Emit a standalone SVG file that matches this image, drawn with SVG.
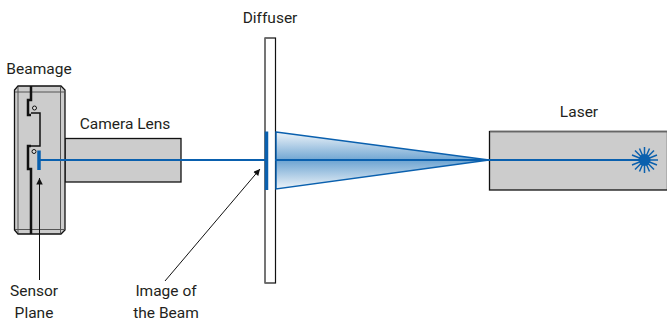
<svg xmlns="http://www.w3.org/2000/svg" width="667" height="322" viewBox="0 0 667 322">
<style>
text{font-family:"Roboto","Liberation Sans",sans-serif;font-size:15.5px;fill:#231f20;text-anchor:middle}
.body{fill:#cccccc;stroke:#111;stroke-width:1.3}
.in{fill:none;stroke:#555;stroke-width:1}
.beam{stroke:#0a60ae;fill:none}
.lead{stroke:#111;stroke-width:1;fill:none}
</style>
<defs>
<linearGradient id="g" x1="0" y1="0" x2="0" y2="1">
<stop offset="0" stop-color="#eef4f9"/><stop offset="0.5" stop-color="#6fa5d2"/><stop offset="1" stop-color="#eef4f9"/>
</linearGradient>
<marker id="a" viewBox="0 0 10 10" refX="10" refY="5" markerWidth="10" markerHeight="6.500" markerUnits="userSpaceOnUse" orient="auto"><path d="M0 0L10 5L0 10z" fill="#111"/></marker>
</defs>
<g id="lens"><rect class="body" x="65" y="138.500" width="116" height="43.500"/><text x="125" y="129">Camera Lens</text></g>
<g id="beamage">
<path class="body" d="M18 86H61L65 90V230L61 234H18L14.500 230V90Z"/>
<path class="in" d="M18 87V233M60.500 87V233M15 92H64.500M15 229.500H64.500"/>
<path fill="none" stroke="#111" stroke-width="2.500" d="M31 86V100H28V115H31"/>
<path fill="none" stroke="#111" stroke-width="2.500" d="M31 146H28V169H31V234"/>
<path fill="none" stroke="#111" stroke-width="1.500" d="M31 113H40V146H31"/>
<circle cx="34.500" cy="108" r="2" fill="#ddd" stroke="#111"/>
<circle cx="34" cy="151.500" r="2" fill="#ddd" stroke="#111"/>
<text x="39" y="74">Beamage</text>
</g>
<g id="diffuser">
<rect x="265" y="38" width="10.500" height="245" fill="#fff" stroke="#111" stroke-width="1.200"/>
<path d="M265 38V283" stroke="#777" stroke-width="1.500"/>
<text x="270" y="23">Diffuser</text>
</g>
<g id="laser">
<rect x="489.500" y="131.500" width="178" height="58.500" fill="#cccccc" stroke="#111" stroke-width="1.300"/>
<path d="M490 131.500H667" stroke="#666" stroke-width="1.300"/>
<text x="579" y="117">Laser</text>
</g>
<g id="connectors">
<path d="M276 132L489 160L276 189Z" fill="url(#g)" stroke="#0a60ae" stroke-width="1.500"/>
<path class="beam" stroke-width="2" d="M39 160H265M275 160H644"/>
<path class="beam" stroke-width="3.500" d="M266.500 131.500V190"/>
<path class="beam" stroke-width="3.500" d="M39 150.500V170"/>
<g id="star" class="beam" stroke-width="1.500"><path d="M631 160H658M644.500 147V173M635 150.500L654 169.500M635 169.500L654 150.500M632 155L657 165M632 165L657 155M639.500 148.500L649.500 171.500M649.500 148.500L639.500 171.500"/><circle cx="644.500" cy="160" r="6" fill="#0a60ae" stroke="none"/></g>
<path class="lead" marker-end="url(#a)" d="M39.500 280V178"/>
<path class="lead" marker-end="url(#a)" d="M165 281L260 169"/>
</g>
<g id="labels">
<text x="34" y="296">Sensor</text><text x="34" y="318">Plane</text>
<text x="166" y="296">Image of</text><text x="166" y="318">the Beam</text>
</g>
</svg>
